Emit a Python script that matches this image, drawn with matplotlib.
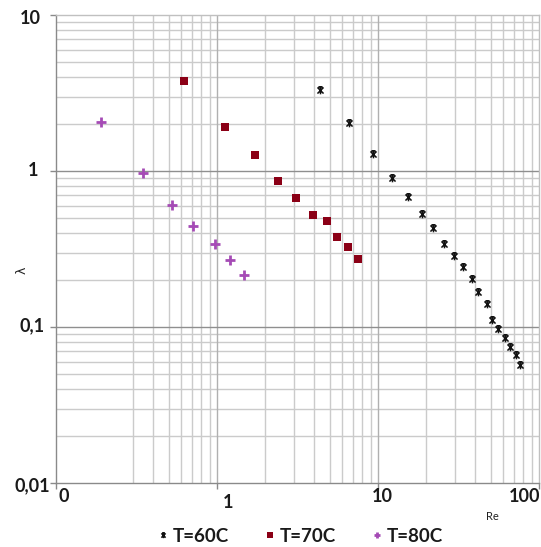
import matplotlib
matplotlib.use("Agg")
import matplotlib.pyplot as plt
from matplotlib.path import Path
from matplotlib.ticker import FixedLocator, NullFormatter

# ---------------- data ----------------
re_60 = [4.36, 6.63, 9.35, 12.27, 15.29, 18.68, 22.06, 25.81, 29.65, 33.6,
         38.4, 41.98, 47.3, 51.35, 55.5, 61.3, 66.05, 71.55, 76.7]
lam_60 = [3.30, 2.02, 1.28, 0.898, 0.684, 0.528, 0.429, 0.342, 0.285, 0.2414,
          0.2016, 0.1677, 0.1405, 0.1109, 0.0971, 0.0854, 0.0739, 0.0661, 0.0571]

re_70 = [0.624, 1.126, 1.714, 2.376, 3.095, 3.93, 4.84, 5.59, 6.54, 7.55]
lam_70 = [3.76, 1.905, 1.26, 0.859, 0.668, 0.522, 0.480, 0.379, 0.327, 0.274]

re_80 = [0.190, 0.3455, 0.528, 0.713, 0.976, 1.204, 1.477]
lam_80 = [2.07, 0.967, 0.608, 0.444, 0.340, 0.270, 0.2154]

series_labels = ["T=60C", "T=70C", "T=80C"]
x_ticks = [0.1, 1, 10, 100]
x_tick_labels = ["0", "1", "10", "100"]
y_ticks = [0.01, 0.1, 1, 10]
y_tick_labels = ["0,01", "0,1", "1", "10"]
x_label = "Re"
y_label = "λ"

# ---------------- style ----------------
plt.rcParams['font.family'] = ['Lato', 'DejaVu Sans']

W, H = 541, 547
fig = plt.figure(figsize=(W / 100, H / 100), dpi=100)
L, R, T, B = 56, 539, 15, 483
ax = fig.add_axes([L / W, 1 - B / H, (R - L) / W, (B - T) / H])
ax.set_xscale('log')
ax.set_yscale('log')
ax.set_xlim(0.1, 100)
ax.set_ylim(0.01, 10)

# grid
minor_x = [m * d for d in (0.1, 1, 10) for m in range(2, 10)]
minor_x = [v for v in minor_x if abs(v - 0.2) > 1e-9]  # reference lacks the 0.2 line
minor_y = [m * d for d in (0.01, 0.1, 1) for m in range(2, 10)]
for v in minor_x:
    ax.axvline(v, color='#cbcbcb', lw=1.0, zorder=0)
for v in minor_y:
    ax.axhline(v, color='#cbcbcb', lw=1.0, zorder=0)
for v in x_ticks[1:-1]:
    ax.axvline(v, color='#b0b0b0', lw=1.0, zorder=0.5)
for v in y_ticks[1:-1]:
    ax.axhline(v, color='#8f8f8f', lw=1.0, zorder=0.5)

for s in ('top', 'right'):
    ax.spines[s].set_color('#c0c0c0')
    ax.spines[s].set_linewidth(1.0)
for s in ('left', 'bottom'):
    ax.spines[s].set_color('#8a8a8a')
    ax.spines[s].set_linewidth(1.0)

ax.xaxis.set_major_locator(FixedLocator(x_ticks))
ax.yaxis.set_major_locator(FixedLocator(y_ticks))
ax.xaxis.set_minor_locator(FixedLocator([]))
ax.yaxis.set_minor_locator(FixedLocator([]))
ax.xaxis.set_major_formatter(NullFormatter())
ax.yaxis.set_major_formatter(NullFormatter())
ax.tick_params(axis='x', which='major', direction='out', length=4, color='#8a8a8a', width=1)
ax.tick_params(axis='y', which='major', direction='out', length=4, color='#8a8a8a', width=1)

# tick labels (placed with small per-label offsets like the reference)
x_off = [(8, -14), (11, -20), (4, -14), (-14, -13)]
for v, lab, (dx, dy) in zip(x_ticks, x_tick_labels, x_off):
    ax.annotate(lab, xy=(v, 0), xycoords=('data', 'axes fraction'),
                xytext=(dx, dy), textcoords='offset pixels',
                ha='center', va='center', fontsize=13, fontweight='bold',
                color='#1a1a1a', annotation_clip=False)
y_off = [(-6, -3), (-11, 1), (-18, 0), (-15, -3)]
for v, lab, (dx, dy) in zip(y_ticks, y_tick_labels, y_off):
    ax.annotate(lab, xy=(0, v), xycoords=('axes fraction', 'data'),
                xytext=(dx, dy), textcoords='offset pixels',
                ha='right', va='center', fontsize=13, fontweight='bold',
                color='#1a1a1a', annotation_clip=False)

# axis titles
fig.text(492 / W, 1 - 517 / H, x_label, fontsize=8, ha='center', va='center', color='#222222')
fig.text(22 / W, 1 - 270 / H, y_label, fontsize=9, ha='center', va='center',
         rotation=90, color='#222222', family=['DejaVu Sans'])

# custom "star" marker (asterisk with a bar) like Excel's
star_verts = [(0, -1), (0, 1), (-0.8, -0.8), (0.8, 0.8), (-0.8, 0.8), (0.8, -0.8),
              (-0.55, 0.95), (0.55, 0.95)]
star_codes = [Path.MOVETO, Path.LINETO] * 4
star = Path(star_verts, star_codes)

ax.plot(re_60, lam_60, linestyle='none', marker=star, ms=5.5, mew=1.1,
        color='#111111', label=series_labels[0], zorder=3)
ax.plot(re_70, lam_70, linestyle='none', marker='s', ms=5.6, mew=0,
        color='#8b0016', label=series_labels[1], zorder=3)
ax.plot(re_80, lam_80, linestyle='none', marker='+', ms=7, mew=2,
        color='#a54bb5', label=series_labels[2], zorder=3)

handles, labels = ax.get_legend_handles_labels()
leg = fig.legend(handles, labels, loc='center', bbox_to_anchor=(0.556, 1 - 536 / H),
                 ncol=3, frameon=False, prop={'weight': 'bold', 'size': 13.5},
                 handlelength=0.5, handletextpad=0.25, columnspacing=1.95,
                 markerscale=0.7, borderpad=0, borderaxespad=0)
for t in leg.get_texts():
    t.set_color('#1a1a1a')

fig.savefig('out.png', dpi=100)
